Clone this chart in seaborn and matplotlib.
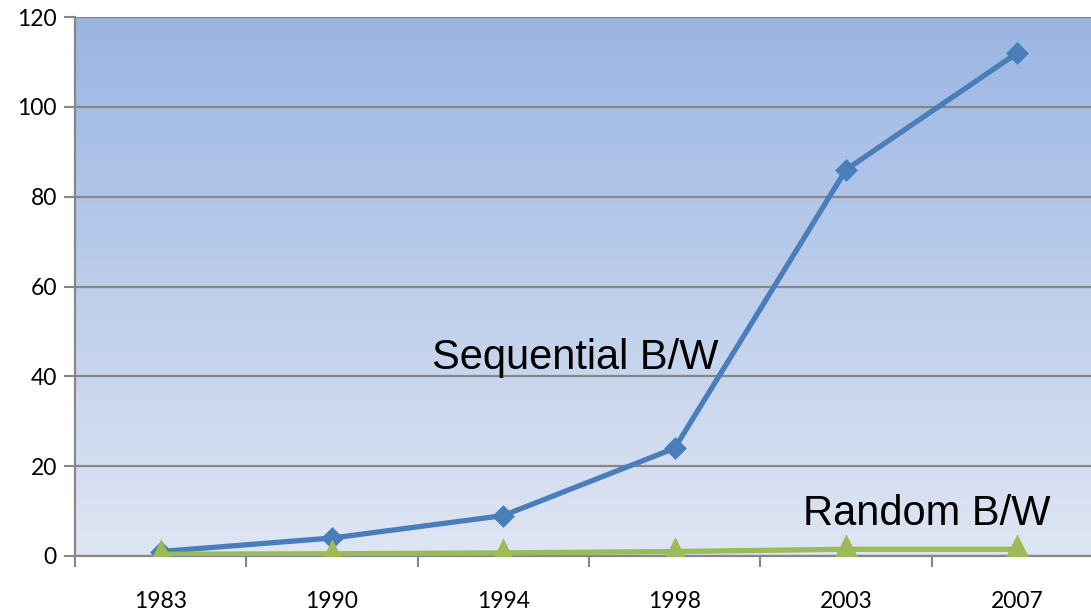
import numpy as np
import pandas as pd
import matplotlib
matplotlib.use("Agg")
import matplotlib.pyplot as plt
import seaborn as sns
from matplotlib.colors import LinearSegmentedColormap

years = ["1983", "1990", "1994", "1998", "2003", "2007"]
sequential_bw = [1, 4, 9, 24, 86, 112]
random_bw = [0.4, 0.5, 0.7, 1.0, 1.5, 1.5]

sns.set_style("white")
plt.rcParams["font.family"] = ["Lato", "DejaVu Sans"]

fig = plt.figure(figsize=(10.91, 6.10), dpi=100)
ax = fig.add_axes([75 / 1091, 1 - 556 / 610, 1028 / 1091, 539 / 610])

# gradient fill of the plot area
grad = LinearSegmentedColormap.from_list("bg", ["#dfe6f3", "#9ab5e3"])
ax.imshow(np.linspace(0, 1, 256).reshape(-1, 1), cmap=grad, origin="lower",
          aspect="auto", extent=[0, 1, 0, 1], transform=ax.transAxes, zorder=0)

x = np.arange(len(years))
seq = pd.DataFrame({"x": x, "val": sequential_bw})
rnd = pd.DataFrame({"x": x, "val": random_bw})

sns.lineplot(data=seq, x="x", y="val", ax=ax, color="#4a7ebb", lw=3.8, zorder=4)
sns.scatterplot(data=seq, x="x", y="val", ax=ax, color="#4a7ebb", marker="D",
                s=135, linewidth=0, zorder=4.5)
sns.lineplot(data=rnd, x="x", y="val", ax=ax, color="#9bbb59", lw=3.8, zorder=5)
sns.scatterplot(data=rnd, x="x", y="val", ax=ax, color="#9bbb59", marker="^",
                s=480, linewidth=0, zorder=5.5)

ax.set_xlim(-0.5, 5.5)
ax.set_ylim(0, 120)
ax.set_yticks(range(0, 121, 20))
ax.yaxis.grid(True, color="#878787", lw=1.6)
ax.set_axisbelow(False)
for gl in ax.get_ygridlines():
    gl.set_zorder(1)

ax.set_xticks(np.arange(-0.5, 5.6, 1))
ax.set_xticklabels([])
ax.set_xticks(x, minor=True)
ax.set_xticklabels(years, minor=True)
ax.tick_params(axis="x", which="major", direction="out", length=8, width=1.5,
               color="#878787", bottom=True)
ax.tick_params(axis="x", which="minor", length=0, pad=25, labelsize=16.5,
               labelcolor="black")
ax.tick_params(axis="y", direction="out", length=8, width=1.5,
               color="#878787", left=True, labelsize=16.5, pad=5,
               labelcolor="black")

for s in ["top", "right"]:
    ax.spines[s].set_visible(False)
for s in ["left", "bottom"]:
    ax.spines[s].set_color("#878787")
    ax.spines[s].set_linewidth(1.6)

ax.set_xlabel("")
ax.set_ylabel("")

ax.text(2.42, 44.1, "Sequential B/W", fontsize=30, family="Liberation Sans",
        va="center", ha="center", color="black", zorder=6)
ax.text(4.47, 9.3, "Random B/W", fontsize=30, family="Liberation Sans",
        va="center", ha="center", color="black", zorder=6)

fig.savefig("out.png", dpi=100)
